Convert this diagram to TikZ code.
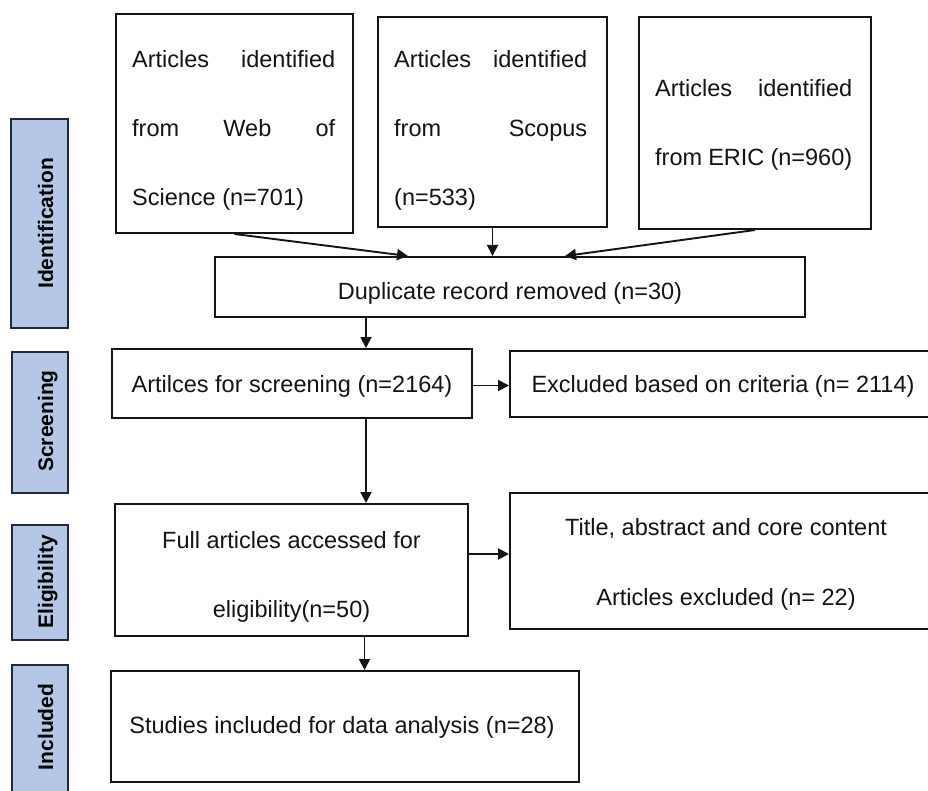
\documentclass[tikz,border=0pt]{standalone}
\usepackage{fontspec}
\setmainfont{Liberation Sans}
\usetikzlibrary{arrows.meta}
\definecolor{sidefill}{HTML}{B4C7E7}
\definecolor{sideline}{HTML}{1F2A3C}
\definecolor{ink}{HTML}{141414}
\begin{document}
\begin{tikzpicture}[x=1pt,y=-1pt,
  box/.style={draw=ink, line width=2pt, fill=white, inner sep=0pt, minimum width=#1},
  txt/.style={text=ink, inner sep=0pt, font=\fontsize{23.5}{27}\selectfont},
  side/.style={draw=sideline, line width=2pt, fill=sidefill, inner sep=0pt},
  sidetxt/.style={text=black, inner sep=0pt, rotate=90, anchor=base, font=\fontsize{21}{25}\selectfont\bfseries},
  arr/.style={draw=ink, line width=1.9pt, -{Triangle[length=11pt,width=11pt]}}]
\useasboundingbox (0,0) rectangle (928,791);

% side stage labels
\node[side, minimum width=57pt, minimum height=209pt] (sid) at (39.5,223.5) {};
\node[sidetxt] (sidt) at (53,223.5) {Identification};
\node[side, minimum width=56pt, minimum height=141pt] (sscr) at (40,422.5) {};
\node[sidetxt] (sscrt) at (53,421) {Screening};
\node[side, minimum width=56pt, minimum height=115pt] (selig) at (40,582.5) {};
\node[sidetxt] (seligt) at (53,582) {Eligibility};
\node[side, minimum width=56pt, minimum height=135pt] (sinc) at (40,732.5) {};
\node[sidetxt] (sinct) at (53,727) {Included};

% identification boxes
\node[box=237pt, minimum height=219pt] (wos) at (234.5,123.5) {};
\node[txt, anchor=base west] (wos1) at (132,68) {\makebox[203pt][s]{Articles identified}};
\node[txt, anchor=base west] (wos2) at (132,137) {\makebox[203pt][s]{from Web of}};
\node[txt, anchor=base west] (wos3) at (132,206) {Science (n=701)};

\node[box=229pt, minimum height=210pt] (scopus) at (492.5,122) {};
\node[txt, anchor=base west] (sco1) at (394,68) {\makebox[193pt][s]{Articles identified}};
\node[txt, anchor=base west] (sco2) at (394,137) {\makebox[193pt][s]{from Scopus}};
\node[txt, anchor=base west] (sco3) at (394,206) {(n=533)};

\node[box=232pt, minimum height=212pt] (eric) at (755,123) {};
\node[txt, anchor=base west] (eric1) at (655,96.5) {\makebox[197pt][s]{Articles identified}};
\node[txt, anchor=base west] (eric2) at (655,166) {\makebox[197pt][s]{from ERIC (n=960)}};

% duplicates
\node[box=590pt, minimum height=60pt] (dup) at (510,287) {};
\node[txt] (dupt) at (510,293) {Duplicate record removed (n=30)};

% screening
\node[box=360pt, minimum height=69pt] (scr) at (292,383.5) {};
\node[txt] (scrt) at (292,386) {Artilces for screening (n=2164)};
\node[box=430pt, minimum height=66pt] (exc) at (725,384) {};
\node[txt] (exct) at (723,386) {Excluded based on criteria (n= 2114)};

% eligibility
\node[box=353pt, minimum height=132pt] (full) at (291.5,570) {};
\node[txt, align=center, font=\fontsize{23.5}{69}\selectfont] (fullt) at (291.5,577) {Full articles accessed for\\eligibility(n=50)};
\node[box=430pt, minimum height=136pt] (title) at (725,561) {};
\node[txt, align=center, font=\fontsize{23.5}{70}\selectfont] (titlet) at (726,564) {Title, abstract and core content\\Articles excluded (n= 22)};

% included
\node[box=468pt, minimum height=111pt] (stud) at (345,726.5) {};
\node[txt] (studt) at (342,727) {Studies included for data analysis (n=28)};

% connectors
\coordinate (w1) at ([xshift=-102pt]dup.north);
\coordinate (e1) at ([xshift=55pt]dup.north);
\draw[arr] (wos.south) -- (w1);
\draw[arr] (scopus.south) -- (scopus.south |- dup.north);
\draw[arr] (eric.south) -- (e1);

\coordinate (d1) at ([xshift=-144pt]dup.south);
\draw[arr] (d1) -- (d1 |- scr.north);

\coordinate (s1) at ([yshift=-2pt]scr.east);
\draw[arr] (s1) -- (s1 -| exc.west);
\coordinate (s2) at ([xshift=74pt]scr.south);
\draw[arr] (s2) -- (s2 |- full.north);

\coordinate (f1) at ([yshift=16pt]full.east);
\draw[arr] (f1) -- (f1 -| title.west);
\coordinate (f2) at ([xshift=73pt]full.south);
\draw[arr] (f2) -- (f2 |- stud.north);
\end{tikzpicture}
\end{document}
